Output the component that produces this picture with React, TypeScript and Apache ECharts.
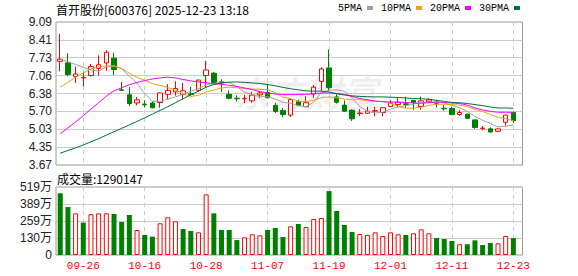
import React, { useEffect, useRef } from 'react';
import * as echarts from 'echarts';

const stockName = '首开股份';
const stockCode = '600376';
const timestamp = '2025-12-23 13:18';

const dates = [
  '09-23', '09-24', '09-25', '09-26', '09-29', '09-30',
  '10-09', '10-10', '10-13', '10-14', '10-15', '10-16', '10-17', '10-20', '10-21', '10-22', '10-23', '10-24', '10-27', '10-28', '10-29', '10-30', '10-31',
  '11-03', '11-04', '11-05', '11-06', '11-07', '11-10', '11-11', '11-12', '11-13', '11-14', '11-17', '11-18', '11-19', '11-20', '11-21', '11-24', '11-25', '11-26', '11-27', '11-28',
  '12-01', '12-02', '12-03', '12-04', '12-05', '12-08', '12-09', '12-10', '12-11', '12-12', '12-15', '12-16', '12-17', '12-18', '12-19', '12-22', '12-23',
];
const labelDates = ['09-26', '10-16', '10-28', '11-07', '11-19', '12-01', '12-11', '12-23'];

const opens = [
  7.60, 7.54, 7.03, 6.97, 7.06, 7.33, 7.54, 7.72, 6.52, 6.33,
  6.02, 5.98, 6.02, 6.04, 6.35, 6.44, 6.34, 6.37, 6.50, 7.06,
  7.15, 6.83, 6.35, 6.20, 6.18, 6.10, 6.33, 6.42, 5.93, 5.74,
  5.56, 6.07, 5.88, 6.37, 6.84, 7.35, 6.25, 5.94, 5.75, 5.62,
  5.63, 5.71, 5.66, 5.89, 5.96, 5.99, 6.12, 5.89, 6.07, 6.03,
  5.82, 5.81, 5.58, 5.60, 5.38, 5.05, 5.04, 4.95, 5.29, 5.66,
];
const closes = [
  7.68, 7.10, 7.12, 6.98, 7.40, 7.47, 7.94, 7.29, 6.50, 6.00,
  6.14, 5.95, 5.84, 6.40, 6.50, 6.57, 6.48, 6.34, 6.89, 7.27,
  6.80, 6.78, 6.20, 6.18, 6.20, 6.32, 6.40, 6.22, 5.70, 5.58,
  6.15, 5.93, 6.03, 6.62, 7.31, 6.60, 6.05, 5.71, 5.42, 5.64,
  5.71, 5.73, 5.84, 6.01, 6.05, 5.96, 6.04, 6.10, 6.14, 6.01,
  5.80, 5.58, 5.66, 5.44, 5.09, 5.07, 4.92, 5.04, 5.56, 5.35,
];
const lows = [
  7.22, 7.04, 6.78, 6.65, 7.02, 7.06, 7.24, 7.08, 6.48, 5.90,
  5.93, 5.85, 5.82, 5.84, 6.15, 6.30, 6.16, 6.30, 6.45, 6.62,
  6.73, 6.44, 6.16, 6.07, 6.01, 6.03, 6.20, 6.19, 5.64, 5.48,
  5.49, 5.90, 5.86, 6.22, 6.47, 6.47, 6.00, 5.69, 5.34, 5.52,
  5.61, 5.52, 5.52, 5.86, 5.86, 5.82, 5.76, 5.77, 6.05, 5.85,
  5.73, 5.56, 5.54, 5.41, 5.04, 4.98, 4.91, 4.92, 5.16, 5.26,
];
const highs = [
  8.64, 7.90, 7.40, 7.18, 7.50, 7.83, 8.02, 7.93, 6.82, 6.62,
  6.25, 6.12, 6.09, 6.42, 6.73, 6.84, 6.78, 6.63, 6.91, 7.62,
  7.19, 6.92, 6.50, 6.31, 6.33, 6.44, 6.47, 6.75, 6.03, 5.83,
  6.17, 6.15, 6.28, 6.70, 7.37, 8.05, 6.35, 6.12, 5.78, 5.79,
  5.88, 5.88, 5.85, 6.13, 6.22, 6.26, 6.14, 6.26, 6.20, 6.14,
  5.94, 5.87, 5.76, 5.61, 5.39, 5.14, 5.10, 5.05, 5.57, 5.69,
];
const prevClose = 7.85;

const volumes = [
  4710000, 3660000, 3180000, 2470000, 3110000, 3180000, 3180000, 3130000, 2520000, 3050000,
  1910000, 1530000, 1400000, 2420000, 2880000, 2570000, 1980000, 1830000, 1730000, 4630000,
  3180000, 1910000, 1910000, 1140000, 1350000, 1580000, 1500000, 1910000, 2060000, 1370000,
  2190000, 2370000, 2140000, 2750000, 2820000, 4880000, 3360000, 2290000, 1760000, 1600000,
  1530000, 1730000, 1450000, 1730000, 1580000, 1530000, 1660000, 1960000, 1660000, 1300000,
  1220000, 1070000, 820000, 820000, 1120000, 760000, 920000, 890000, 1450000, 1290147,
];

const ma5 = [
  7.68, 7.59, 7.48, 7.37, 7.27, 7.23, 7.38, 7.42, 7.32, 7.04,
  6.77, 6.38, 6.09, 6.07, 6.17, 6.25, 6.36, 6.46, 6.56, 6.71,
  6.76, 6.82, 6.79, 6.65, 6.43, 6.34, 6.26, 6.26, 6.17, 6.04,
  6.01, 5.92, 5.88, 6.06, 6.41, 6.50, 6.52, 6.46, 6.22, 5.88,
  5.71, 5.64, 5.67, 5.79, 5.87, 5.92, 5.98, 6.03, 6.06, 6.05,
  6.02, 5.93, 5.84, 5.70, 5.51, 5.37, 5.24, 5.11, 5.14, 5.19,
];
const ma10 = [
  6.62, 6.80, 7.00, 7.16, 7.31, 7.38, 7.42, 7.43, 7.33, 7.15,
  6.99, 6.88, 6.75, 6.69, 6.60, 6.51, 6.37, 6.27, 6.31, 6.44,
  6.51, 6.59, 6.62, 6.60, 6.57, 6.55, 6.54, 6.53, 6.41, 6.24,
  6.18, 6.09, 6.07, 6.12, 6.23, 6.25, 6.22, 6.17, 6.14, 6.15,
  6.10, 6.09, 6.07, 6.00, 5.89, 5.82, 5.82, 5.86, 5.93, 5.97,
  5.97, 5.96, 5.94, 5.88, 5.78, 5.70, 5.58, 5.48, 5.42, 5.35,
];
const ma20 = [
  4.85, 5.08, 5.30, 5.54, 5.79, 6.03, 6.28, 6.48, 6.60, 6.71,
  6.80, 6.87, 6.93, 6.97, 7.00, 6.97, 6.91, 6.86, 6.82, 6.79,
  6.75, 6.73, 6.69, 6.65, 6.59, 6.53, 6.45, 6.40, 6.36, 6.34,
  6.34, 6.34, 6.35, 6.36, 6.40, 6.40, 6.38, 6.35, 6.27, 6.19,
  6.14, 6.09, 6.07, 6.06, 6.05, 6.04, 6.02, 6.01, 6.03, 6.06,
  6.04, 6.02, 6.00, 5.94, 5.83, 5.76, 5.70, 5.67, 5.67, 5.66,
];
const ma30 = [
  4.12, 4.22, 4.32, 4.43, 4.55, 4.67, 4.80, 4.93, 5.06, 5.19,
  5.32, 5.46, 5.60, 5.74, 5.88, 6.03, 6.18, 6.33, 6.47, 6.62,
  6.72, 6.78, 6.81, 6.82, 6.80, 6.78, 6.76, 6.72, 6.67, 6.61,
  6.56, 6.52, 6.48, 6.47, 6.47, 6.44, 6.37, 6.32, 6.29, 6.27,
  6.26, 6.25, 6.25, 6.24, 6.23, 6.21, 6.19, 6.18, 6.16, 6.12,
  6.08, 6.04, 6.03, 6.00, 5.96, 5.92, 5.87, 5.83, 5.83, 5.82,
];

const priceTicks = [3.67, 4.35, 5.03, 5.70, 6.38, 7.06, 7.73, 8.41, 9.09];
const priceTickLabels = ['3.67', '4.35', '5.03', '5.70', '6.38', '7.06', '7.73', '8.41', '9.09'];
const volumeTicks = [0, 1297500, 2595000, 3892500, 5190000];
const volumeTickLabels = ['0', '130万', '259万', '389万', '519万'];

const maNames = ['5PMA', '10PMA', '20PMA', '30PMA'];
const maSeries = [ma5, ma10, ma20, ma30];
const maColors = ['#a0a0a0', '#f0a010', '#ff00ff', '#00703a'];

const RED = '#ff0000';
const GREEN = '#008000';

function nearestLabel(value: number, ticks: number[], labels: string[]) {
  let best = 0;
  for (let i = 1; i < ticks.length; i++) {
    if (Math.abs(ticks[i] - value) < Math.abs(ticks[best] - value)) best = i;
  }
  return labels[best];
}

export default function App() {
  const ref = useRef<HTMLDivElement>(null);
  useEffect(() => {
    if (!ref.current) return;
    const chart = echarts.init(ref.current, undefined, { renderer: 'svg' });
    const isLabelDate = (_i: number, v: string) => labelDates.indexOf(v) >= 0;
    const pMin = priceTicks[0];
    const pMax = priceTicks[priceTicks.length - 1];
    const pInt = (pMax - pMin) / (priceTicks.length - 1);
    const vMax = volumeTicks[volumeTicks.length - 1];
    const vInt = vMax / (volumeTicks.length - 1);
    const splitV = {
      show: true,
      alignWithLabel: true,
      interval: isLabelDate,
      lineStyle: { color: '#cccccc', type: [4, 4], width: 1 },
    };
    const option: any = {
      animation: false,
      backgroundColor: '#ffffff',
      title: {
        text: `${stockName}[${stockCode}] ${timestamp}`,
        left: 56,
        top: 3,
        padding: 0,
        textStyle: { fontSize: 12, fontWeight: 'normal', color: '#000', fontFamily: '"Noto Sans CJK SC", sans-serif' },
      },
      legend: {
        data: maNames,
        left: 338,
        top: 3,
        padding: 0,
        align: 'right',
        icon: 'rect',
        itemWidth: 6,
        itemHeight: 4,
        itemGap: 8,
        selectedMode: false,
        textStyle: { fontSize: 10, fontFamily: '"Liberation Mono", monospace', color: '#000', padding: [0, 0, 0, 0] },
      },
      graphic: [
        {
          type: 'text',
          x: 306,
          y: 91,
          z: 0,
          silent: true,
          style: {
            text: '东方财富',
            fontSize: 36,
            fontFamily: '"Noto Sans CJK SC", sans-serif',
            fontWeight: 'bold',
            fontStyle: 'italic',
            fill: 'rgba(0,0,0,0.07)',
            align: 'center',
            verticalAlign: 'middle',
          },
        },
        {
          type: 'text',
          x: 57,
          y: 178,
          style: {
            text: `成交量:${volumes[volumes.length - 1]}`,
            fontSize: 12,
            fontFamily: '"Noto Sans CJK SC", sans-serif',
            fill: '#000',
            verticalAlign: 'middle',
          },
        },
      ],
      grid: [
        { left: 56.4, top: 22, width: 460.8, height: 143 },
        { left: 56.4, top: 187, width: 460.8, height: 68 },
        { left: 56, top: 22, width: 466.5, height: 143, show: true, borderColor: '#999999', borderWidth: 1, backgroundColor: 'transparent' },
        { left: 56, top: 187, width: 466.5, height: 68, show: true, borderColor: '#999999', borderWidth: 1, backgroundColor: 'transparent' },
      ],
      xAxis: [
        {
          type: 'category', gridIndex: 0, data: dates, boundaryGap: true,
          axisLine: { show: false }, axisTick: { show: false }, axisLabel: { show: false },
          splitLine: splitV,
        },
        {
          type: 'category', gridIndex: 1, data: dates, boundaryGap: true,
          axisLine: { show: false }, axisTick: { show: false },
          axisLabel: { show: true, interval: isLabelDate, color: RED, fontSize: 11, fontFamily: '"Liberation Mono", monospace', margin: 5 },
          splitLine: splitV,
        },
        { type: 'value', gridIndex: 2, show: false },
        { type: 'value', gridIndex: 3, show: false },
      ],
      yAxis: [
        { type: 'value', gridIndex: 0, min: pMin, max: pMax, interval: pInt, show: false },
        { type: 'value', gridIndex: 1, min: 0, max: vMax, interval: vInt, show: false },
        {
          type: 'value', gridIndex: 2, min: pMin, max: pMax, interval: pInt,
          axisLine: { show: false }, axisTick: { show: false },
          axisLabel: {
            margin: 4, color: '#222', fontSize: 12, fontFamily: '"Liberation Sans", Arial, sans-serif',
            formatter: (v: number) => nearestLabel(v, priceTicks, priceTickLabels),
          },
          splitLine: { show: true, lineStyle: { color: '#cccccc', width: 1 } },
        },
        {
          type: 'value', gridIndex: 3, min: 0, max: vMax, interval: vInt,
          axisLine: { show: false }, axisTick: { show: false },
          axisLabel: {
            margin: 4, color: '#222', fontSize: 12, fontFamily: '"Liberation Sans", "Noto Sans CJK SC", sans-serif',
            formatter: (v: number) => nearestLabel(v, volumeTicks, volumeTickLabels),
          },
          splitLine: { show: true, lineStyle: { color: '#cccccc', width: 1 } },
        },
      ],
      series: [
        {
          type: 'candlestick',
          name: 'K',
          xAxisIndex: 0,
          yAxisIndex: 0,
          barWidth: 5,
          data: dates.map((_, i) => [opens[i], closes[i], lows[i], highs[i]]),
          itemStyle: { color: '#ffffff', color0: GREEN, borderColor: RED, borderColor0: GREEN, borderWidth: 1 },
          z: 3,
        },
        ...maNames.map((name, k) => ({
          type: 'line',
          name,
          xAxisIndex: 0,
          yAxisIndex: 0,
          data: maSeries[k],
          symbol: 'none',
          color: maColors[k],
          lineStyle: { color: maColors[k], width: 1 },
          z: 4,
        })),
        {
          type: 'bar',
          name: 'VOL',
          xAxisIndex: 1,
          yAxisIndex: 1,
          barWidth: 5,
          data: volumes.map((v, i) => {
            const ref0 = i === 0 ? prevClose : closes[i - 1];
            const up = closes[i] >= ref0;
            return {
              value: v,
              itemStyle: up
                ? { color: '#ffffff', borderColor: RED, borderWidth: 1 }
                : { color: GREEN, borderColor: GREEN, borderWidth: 0 },
            };
          }),
        },
      ],
    };
    chart.setOption(option);
    return () => chart.dispose();
  }, []);
  return <div ref={ref} style={{ position: 'fixed', left: 0, top: 0, width: 578, height: 276 }} />;
}
